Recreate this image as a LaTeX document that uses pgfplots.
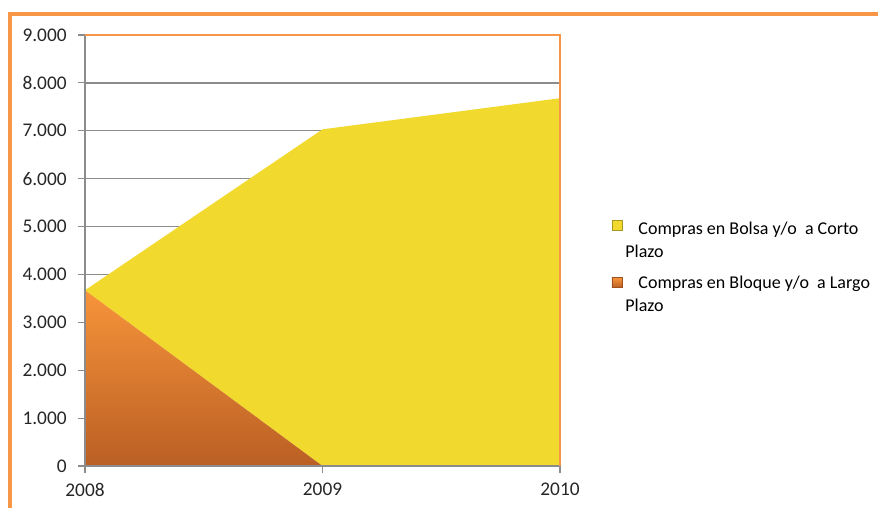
\documentclass[border=0pt]{standalone}
\usepackage{fontspec}
\setmainfont{Carlito}
\usepackage{pgfplots}
\pgfplotsset{compat=1.18}
\definecolor{frameor}{HTML}{F79646}
\definecolor{gridgr}{HTML}{8C8C8C}
\definecolor{yel}{HTML}{F2D92E}
\definecolor{ortop}{HTML}{F7943A}
\definecolor{orbot}{HTML}{BA5F24}
\newcommand{\lrow}[1]{\rule{0pt}{#1}}
\begin{document}
\begin{tikzpicture}[x=0.75pt,y=0.75pt]
\path[use as bounding box] (0,0) rectangle (878,508);
\draw[frameor, line width=3pt] (10,0) -- (10,494) -- (878,494);
\begin{axis}[
  name=ax,
  at={(63.75pt,31.5pt)}, anchor=south west,
  scale only axis,
  width=356.25pt, height=323.25pt,
  xmin=0, xmax=2, ymin=0, ymax=9000,
  stack plots=y,
  xtick={0,1,2}, xticklabels={2008,2009,2010},
  ytick={0,1000,...,9000},
  xtick pos=left, ytick pos=left,
  tick align=outside,
  major tick length=5.25pt,
  tick style={gridgr, line width=0.8pt},
  axis line style={draw=none},
  ymajorgrids,
  major grid style={gridgr, line width=1pt},
  tick label style={font=\fontsize{14.5}{16}\selectfont, text=black!85},
  /pgf/number format/1000 sep={.},
  /pgf/number format/assume math mode=true,
  xticklabel style={yshift=-4pt},
  yticklabel style={xshift=-5pt},
  legend style={at={(1.108,0.571)}, anchor=north west, draw=none, fill=none,
    inner sep=0pt, row sep=0pt, column sep=2pt,
    font=\fontsize{13.5}{15}\selectfont,
    nodes={inner sep=0pt, text depth=0pt}},
  legend cell align=left,
  legend image code/.code={\path[#1] (0pt,0pt) rectangle (8pt,7.5pt);},
]
\addplot[draw=none, top color=ortop, bottom color=orbot, forget plot] coordinates {
  (0,3670) (1,0) (2,0)
} \closedcycle;
\addplot[draw=none, fill=yel, forget plot] coordinates {
  (0,0) (1,7030) (2,7680)
} \closedcycle;
\addlegendimage{fill=yel, draw=yel!70!black, line width=0.4pt, yshift=-2.2pt}
\addlegendentry{\lrow{10pt}\hspace*{9.75pt}Compras en Bolsa y/o\ \ a Corto}
\addlegendimage{empty legend}
\addlegendentry{\lrow{17.25pt}Plazo}
\addlegendimage{top color=ortop, bottom color=orbot, draw=orbot!85!black, line width=0.4pt, yshift=-10.9pt}
\addlegendentry{\lrow{23.8pt}\hspace*{9.75pt}Compras en Bloque y/o\ \ a Largo}
\addlegendimage{empty legend}
\addlegendentry{\lrow{17.25pt}Plazo}
\end{axis}
\draw[gridgr, line width=1pt] (ax.north west) -- (ax.south west) -- (ax.south east);
\draw[frameor, line width=1.5pt] (ax.north west) -- (ax.north east) -- (ax.south east);
\end{tikzpicture}
\end{document}
